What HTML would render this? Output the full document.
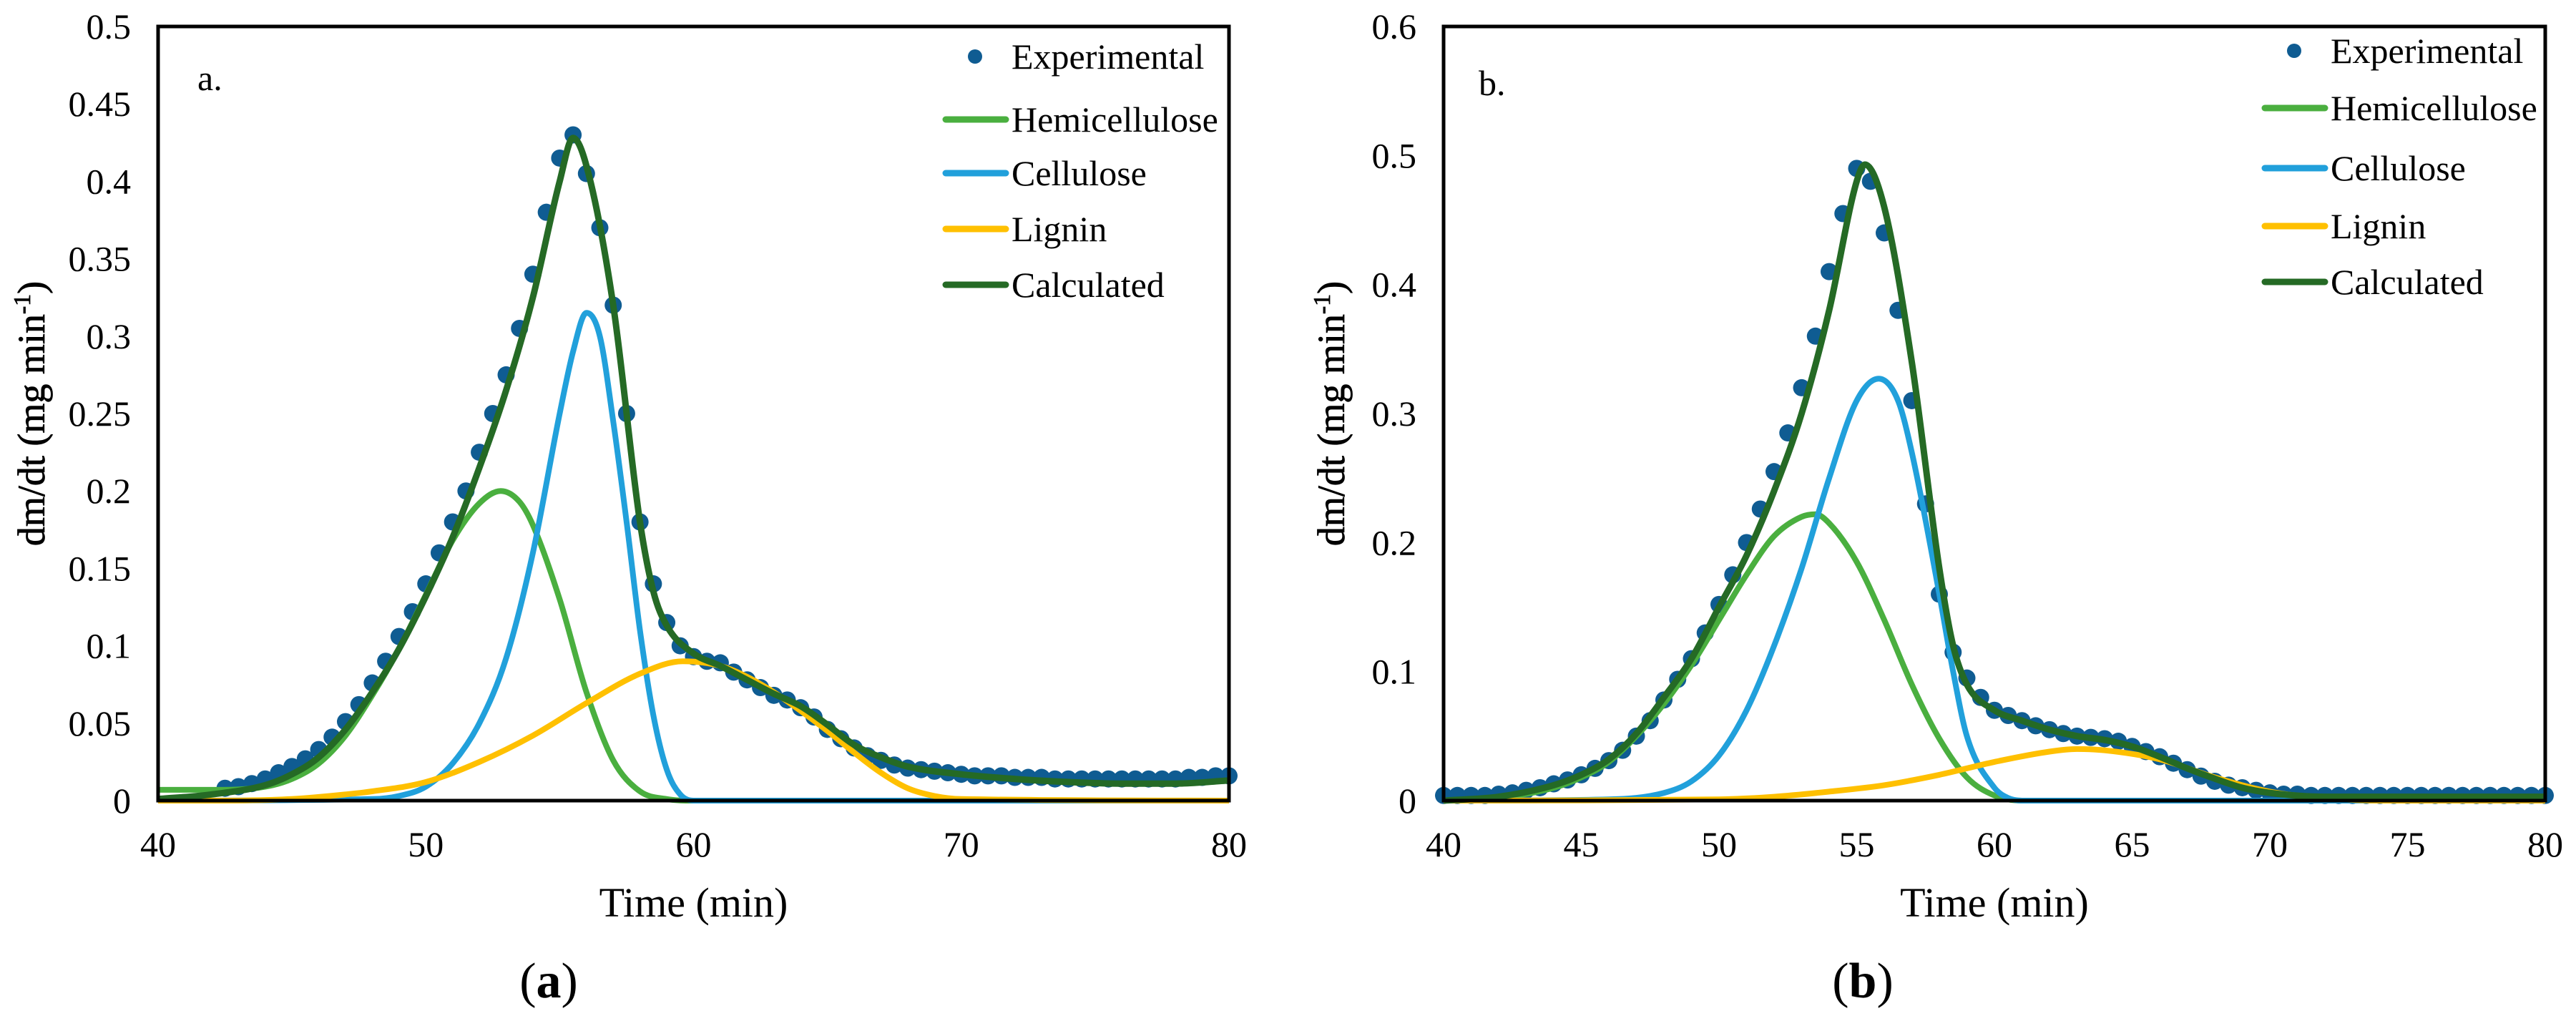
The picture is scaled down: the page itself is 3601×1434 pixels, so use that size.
<!DOCTYPE html>
<html><head><meta charset="utf-8">
<style>
html,body{margin:0;padding:0;background:#fff;}
svg, svg text{font-family:"Liberation Serif","Times New Roman",serif;}
</style></head>
<body>
<svg id="fig" width="3601" height="1429" viewBox="0 0 3601 1429" xmlns="http://www.w3.org/2000/svg" font-family="Liberation Serif, serif"></svg>
<script>
// ---------- Panel a data ----------
const aHemiT=[40,42,44,45,46,47,48,49,50,51,52,52.8,53.5,54,55,56,57,58,59,60,80];
const aHemiV=[0.007,0.007,0.009,0.014,0.024,0.042,0.068,0.098,0.133,0.168,0.192,0.2,0.193,0.178,0.13,0.07,0.026,0.006,0.001,0,0];
const aCellT=[40,48,49,50,51,52,53,54,55,55.5,56,56.5,57,57.5,58,58.5,59,59.5,60,80];
const aCellV=[0,0.001,0.003,0.009,0.024,0.05,0.092,0.16,0.25,0.29,0.315,0.3,0.245,0.18,0.11,0.055,0.02,0.004,0,0];
const aLigT=[40,42,45,47,48,50,52,54,56,58,59.6,61,62,63,64,65,66,67,68,69,70,80];
const aLigV=[0,0,0.001,0.004,0.006,0.012,0.025,0.042,0.063,0.082,0.09,0.087,0.08,0.07,0.058,0.045,0.031,0.018,0.008,0.003,0.001,0];
const aCalcT=[40,42,44,45,46,47,48,49,50,51,52,53,54,55,55.5,56,57,58,58.5,59,60,61,62,63,64,65,66,67,68,70,72,74,76,78,80];
const aCalcV=[0.001,0.004,0.01,0.017,0.028,0.046,0.07,0.098,0.132,0.17,0.215,0.265,0.325,0.4,0.428,0.41,0.32,0.18,0.135,0.113,0.095,0.087,0.078,0.069,0.061,0.049,0.036,0.028,0.022,0.017,0.014,0.012,0.011,0.011,0.013];
const aExpT0=42.5;
const aExpV=[0.008,0.009,0.011,0.014,0.018,0.022,0.027,0.033,0.041,0.051,0.062,0.076,0.09,0.106,0.122,0.14,0.16,0.18,0.2,0.225,0.25,0.275,0.305,0.34,0.38,0.415,0.43,0.405,0.37,0.32,0.25,0.18,0.14,0.115,0.1,0.093,0.09,0.089,0.083,0.078,0.073,0.068,0.065,0.06,0.054,0.046,0.04,0.034,0.029,0.026,0.023,0.021,0.02,0.019,0.018,0.017,0.016,0.016,0.016,0.015,0.015,0.015,0.014,0.014,0.014,0.014,0.014,0.014,0.014,0.014,0.014,0.014,0.015,0.015,0.016,0.016];
const aYTicks=["0","0.05","0.1","0.15","0.2","0.25","0.3","0.35","0.4","0.45","0.5"];
const aYVals=[0,0.05,0.1,0.15,0.2,0.25,0.3,0.35,0.4,0.45,0.5];
const aXTicks=[40,50,60,70,80];
// ---------- Panel b data ----------
const bHemiT=[40,42,44,45,46,47,48,49,50,51,52,53,53.5,54,55,56,57,58,59,60,61,80];
const bHemiV=[0,0.002,0.01,0.018,0.03,0.05,0.075,0.105,0.14,0.175,0.205,0.22,0.222,0.215,0.185,0.14,0.09,0.048,0.018,0.004,0,0];
const bCellT=[40,46,48,49,50,51,52,53,54,55,55.8,56.5,57,58,58.5,59,60,60.5,61,80];
const bCellV=[0,0.001,0.006,0.015,0.035,0.07,0.12,0.18,0.25,0.31,0.327,0.31,0.27,0.16,0.1,0.05,0.01,0.002,0,0];
const bLigT=[40,50,52,54,56,58,60,62,63,64,66,68,70,72,74,80];
const bLigV=[0,0.001,0.003,0.007,0.012,0.02,0.03,0.038,0.04,0.039,0.032,0.018,0.007,0.002,0,0];
const bCalcT=[40,42,44,45,46,47,48,49,50,51,52,53,54,55,55.3,56,57,58,58.5,59,60,61,62,63,64,65,66,67,68,69,70,72,75,80];
const bCalcV=[0,0.003,0.012,0.02,0.032,0.052,0.08,0.11,0.15,0.19,0.24,0.3,0.38,0.48,0.493,0.46,0.34,0.18,0.12,0.09,0.07,0.062,0.055,0.05,0.047,0.042,0.034,0.025,0.017,0.01,0.006,0.003,0.003,0.003];
const bExpT0=40;
const bExpV=[0.004,0.004,0.004,0.004,0.005,0.006,0.008,0.01,0.013,0.016,0.02,0.025,0.031,0.039,0.05,0.062,0.078,0.094,0.11,0.13,0.152,0.175,0.2,0.226,0.255,0.285,0.32,0.36,0.41,0.455,0.49,0.48,0.44,0.38,0.31,0.23,0.16,0.115,0.095,0.08,0.07,0.066,0.062,0.058,0.055,0.052,0.05,0.049,0.048,0.046,0.042,0.038,0.034,0.029,0.024,0.019,0.015,0.012,0.01,0.008,0.006,0.005,0.005,0.004,0.004,0.004,0.004,0.004,0.004,0.004,0.004,0.004,0.004,0.004,0.004,0.004,0.004,0.004,0.004,0.004,0.004];
const bYTicks=["0","0.1","0.2","0.3","0.4","0.5","0.6"];
const bYVals=[0,0.1,0.2,0.3,0.4,0.5,0.6];
const bXTicks=[40,45,50,55,60,65,70,75,80];

const NS="http://www.w3.org/2000/svg";
const FONT='Liberation Serif, serif';
const svg=document.getElementById('fig');
function mk(tag,attrs,parent){const e=document.createElementNS(NS,tag);for(const k in attrs)e.setAttribute(k,attrs[k]);if(tag==='text')e.setAttribute('font-family',FONT);(parent||svg).appendChild(e);return e;}

function smoothPath(xs,ys){
  const n=xs.length;if(n<2)return '';
  const d=[],m=[];
  for(let i=0;i<n-1;i++)d.push((ys[i+1]-ys[i])/(xs[i+1]-xs[i]));
  m[0]=d[0];m[n-1]=d[n-2];
  for(let i=1;i<n-1;i++){m[i]=(d[i-1]*d[i]<=0)?0:(d[i-1]+d[i])/2;}
  for(let i=0;i<n-1;i++){if(d[i]===0){m[i]=0;m[i+1]=0;continue;}const a=m[i]/d[i],b=m[i+1]/d[i],s=a*a+b*b;if(s>9){const t=3/Math.sqrt(s);m[i]=t*a*d[i];m[i+1]=t*b*d[i];}}
  let p='M'+xs[0].toFixed(1)+','+ys[0].toFixed(1);
  for(let i=0;i<n-1;i++){const h=(xs[i+1]-xs[i])/3;
    p+=' C'+(xs[i]+h).toFixed(1)+','+(ys[i]+m[i]*h).toFixed(1)+' '+(xs[i+1]-h).toFixed(1)+','+(ys[i+1]-m[i+1]*h).toFixed(1)+' '+xs[i+1].toFixed(1)+','+ys[i+1].toFixed(1);}
  return p;
}

function panel(cfg){
  const g=mk('g',{});
  
  
  const L=cfg.left,R=cfg.right,T=cfg.top,B=cfg.bottom;
  const X=v=>L+(v-40)/40*(R-L);
  const Y=v=>B-v/cfg.ymax*(B-T);
  const series=[
    ['hemicellulose',cfg.hemiT,cfg.hemiV,'#4aaf3f'],
    ['cellulose',cfg.cellT,cfg.cellV,'#21a0db'],
    ['lignin',cfg.ligT,cfg.ligV,'#ffc000']];
  const eg=mk('g',{},g);
  
  
  cfg.expV.forEach((v,i)=>{const c=mk('circle',{cx:X(cfg.expT0+i*0.5),cy:Y(v),r:12,fill:'#0f5c92'},eg);
    
    });
  series.forEach(s=>{const p=mk('path',{d:smoothPath(s[1].map(X),s[2].map(Y)),fill:'none',stroke:s[3],'stroke-width':8,'stroke-linejoin':'round'},g);
    
    });
  const cp=mk('path',{d:smoothPath(cfg.calcT.map(X),cfg.calcV.map(Y)),fill:'none',stroke:'#256a25','stroke-width':9,'stroke-linejoin':'round'},g);
  
  
  const fr=mk('rect',{x:L,y:T,width:R-L,height:B-T,fill:'none',stroke:'#000','stroke-width':5},g);
  
  
  cfg.yVals.forEach((v,i)=>{const t=mk('text',{x:L-38,y:Y(v)+17,'font-size':50,'text-anchor':'end'},g);t.textContent=cfg.yTicks[i];
    
    });
  cfg.xTicks.forEach(v=>{const t=mk('text',{x:X(v),y:B+78,'font-size':50,'text-anchor':'middle'},g);t.textContent=v;
    
    });
  const xt=mk('text',{x:(L+R)/2,y:B+162,'font-size':58,'text-anchor':'middle'},g);xt.textContent='Time (min)';
  
  
  const yt=mk('text',{x:0,y:0,'font-size':54,'text-anchor':'middle',stroke:'#000','stroke-width':0.8,transform:'translate('+cfg.ytx+','+((T+B)/2)+') rotate(-90)'},g);
  yt.innerHTML='dm/dt (mg min<tspan font-size="34" dy="-20">-1</tspan><tspan dy="20">)</tspan>';
  
  
  const pl=mk('text',{x:cfg.plx,y:cfg.ply,'font-size':50},g);pl.textContent=cfg.id+'.';
  
  
  const cap=mk('text',{x:cfg.capx,y:1394,'font-size':70,'text-anchor':'middle'},g);
  cap.innerHTML='(<tspan font-weight="bold">'+cfg.id+'</tspan>)';
  
  
  const lg=mk('g',{},g);
  
  
  const names=['Experimental','Hemicellulose','Cellulose','Lignin','Calculated'];
  const cols=['#0f5c92','#4aaf3f','#21a0db','#ffc000','#256a25'];
  names.forEach((n,i)=>{const y=cfg.legY[i];
    const e=mk('g',{},lg);
    
    
    if(i===0)mk('circle',{cx:cfg.legX+41,cy:y,r:10,fill:cols[0]},e);
    else mk('line',{x1:cfg.legX,x2:cfg.legX+84,y1:y,y2:y,stroke:cols[i],'stroke-width':9,'stroke-linecap':'round'},e);
    const t=mk('text',{x:cfg.legX+92,y:y+17,'font-size':50},e);t.textContent=n;});
}

panel({id:'a',left:221,right:1718,top:37,bottom:1119,ymax:0.5,
  hemiT:aHemiT,hemiV:aHemiV,cellT:aCellT,cellV:aCellV,ligT:aLigT,ligV:aLigV,calcT:aCalcT,calcV:aCalcV,expT0:aExpT0,expV:aExpV,
  yTicks:aYTicks,yVals:aYVals,xTicks:aXTicks,ytx:62,plx:276,ply:126,capx:767,
  legX:1322,legY:[79,167,242,320,398]});
panel({id:'b',left:2018,right:3558,top:37,bottom:1119,ymax:0.6,
  hemiT:bHemiT,hemiV:bHemiV,cellT:bCellT,cellV:bCellV,ligT:bLigT,ligV:bLigV,calcT:bCalcT,calcV:bCalcV,expT0:bExpT0,expV:bExpV,
  yTicks:bYTicks,yVals:bYVals,xTicks:bXTicks,ytx:1879,plx:2067,ply:133,capx:2604,
  legX:3166,legY:[71,151,235,316,394]});
</script>
</body></html>
